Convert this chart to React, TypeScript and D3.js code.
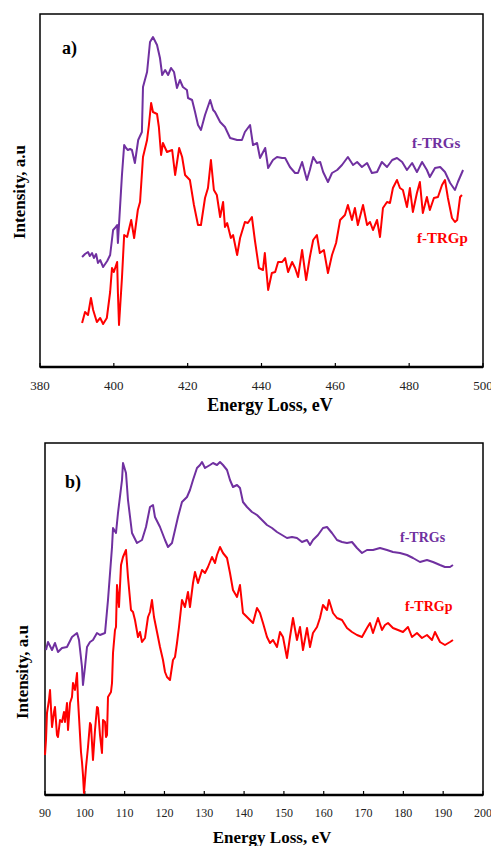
import React from "react";
import * as d3 from "d3";

// ---------- Panel a) data (Energy Loss eV, intensity a.u.) ----------
const aTicks = [380, 400, 420, 440, 460, 480, 500];
const aSE = [391.4,392.2,393.0,393.5,394.1,394.6,395.2,395.7,396.3,397.1,398.2,399.0,399.8,400.3,400.9,401.1,402.2,402.8,403.3,403.8,404.4,404.9,405.7,406.6,407.6,407.9,409.0,409.8,410.6,411.7,412.5,413.1,413.9,414.7,415.5,416.3,417.1,417.9,418.7,419.8,420.1,421.2,422.0,422.8,423.6,424.7,426.1,426.9,427.4,428.8,430.1,431.5,433.4,434.7,435.5,436.9,437.7,438.8,439.6,441.0,441.8,443.1,444.2,445.6,446.4,447.7,449.1,449.9,451.0,452.3,453.1,454.0,455.0,455.9,456.7,458.0,459.1,460.5,461.8,463.4,464.8,465.9,467.2,468.6,469.9,471.3,472.6,474.0,475.4,476.7,478.1,479.4,480.8,482.1,483.5,484.8,485.6,487.0,488.4,489.7,491.1,492.4,493.2,494.6];
const aSI = [110,113,115,111,114,109,113,104,107,100,106,112,137,139,142,124,192,222,219,217,218,217,204,227,235,280,295,325,330,322,309,292,297,292,299,295,279,287,280,277,269,267,255,242,237,252,267,257,255,245,240,229,227,227,235,242,222,224,209,219,199,207,210,209,209,200,194,194,205,187,197,210,204,205,195,185,194,197,202,210,202,205,200,204,194,195,205,200,207,209,205,197,204,195,205,197,190,199,200,195,184,177,185,197];
const aPE = [391.4,392.2,393.0,393.8,394.4,395.4,396.3,397.1,398.1,399.0,399.5,400.0,400.9,401.1,401.4,402.2,402.8,403.6,404.7,405.5,406.5,407.1,407.9,409.0,409.5,410.1,410.6,411.7,412.2,412.8,413.3,414.4,415.8,416.6,417.7,418.5,419.3,420.6,421.7,422.8,423.6,424.7,425.5,426.3,427.1,427.9,428.8,429.6,430.1,430.7,431.7,432.3,433.4,434.2,435.5,436.3,437.4,438.2,439.3,440.4,440.9,441.8,442.8,443.7,444.5,445.6,446.4,447.2,448.3,449.1,449.9,451.0,452.1,453.1,454.0,455.0,455.8,456.9,458.0,459.1,460.2,461.3,462.6,463.4,464.5,465.3,466.1,467.5,468.6,469.4,470.2,471.3,472.1,472.9,474.0,474.8,475.6,476.7,477.5,478.3,479.4,480.2,481.0,482.1,482.9,483.7,484.8,485.6,486.7,487.8,488.9,489.7,490.5,491.6,492.4,493.0,493.8,494.3];
const aPI = [44,55,52,69,57,45,49,43,49,75,99,95,105,75,42,89,132,130,147,129,157,165,210,227,242,264,255,253,240,212,224,215,217,192,219,210,192,187,162,142,142,169,179,207,177,172,150,165,140,144,129,132,112,129,145,144,150,127,99,97,114,77,94,95,105,105,109,95,105,99,90,117,87,110,127,132,114,117,94,112,124,147,152,162,147,159,142,162,142,145,137,147,130,159,165,164,179,187,179,177,160,179,155,174,185,154,170,157,169,170,182,187,169,149,145,147,170,172];

// ---------- Panel b) data ----------
const bTicks = [90, 100, 110, 120, 130, 140, 150, 160, 170, 180, 190, 200];
const bSE = [90.25,90.75,91.76,92.51,93.26,94.27,95.52,96.78,98.04,98.54,99.29,99.54,100.05,100.55,101.3,102.05,103.06,103.81,105.07,105.82,106.83,107.08,107.83,108.33,109.34,109.59,110.34,110.84,111.85,113.1,114.36,115.36,116.37,117.12,117.62,118.88,120.14,120.89,121.89,122.65,123.4,124.4,125.66,126.41,127.17,128.17,128.93,129.43,130.18,131.44,132.19,133.19,133.95,134.7,135.71,136.46,137.21,138.22,138.97,139.72,140.73,141.98,143.24,144.5,145.75,147.01,148.26,149.52,150.77,152.03,153.28,154.54,155.8,156.55,157.3,158.56,159.81,160.82,162.07,163.33,164.59,165.84,167.1,168.35,169.61,170.86,172.37,174.13,175.89,177.39,179.15,180.91,182.42,184.17,185.93,187.44,189.2,190.45,191.71,192.46];
const bSI = [145,153,145,152,143,147,148,158,162,155,128,110,128,148,153,155,162,160,162,195,248,267,262,282,315,332,322,295,262,252,255,268,288,290,278,268,255,248,252,265,278,293,298,305,315,327,330,333,327,330,332,330,333,330,325,315,308,310,307,293,288,283,280,275,270,267,263,260,257,258,257,253,255,250,255,260,267,268,262,255,253,252,253,247,242,245,245,247,245,243,242,240,237,233,235,233,230,228,228,230];
const bPE = [90.0,90.25,90.5,91.0,91.26,91.76,92.26,92.51,93.01,93.26,93.77,94.27,94.77,95.02,95.52,95.78,96.28,96.78,97.03,97.53,98.04,98.29,98.54,99.04,99.29,99.54,99.79,100.3,100.8,101.3,101.55,102.05,102.56,103.06,103.31,103.81,104.31,104.57,105.07,105.32,105.57,105.82,106.57,106.83,107.08,107.58,107.83,108.08,108.58,109.09,109.59,110.34,110.84,111.6,112.1,112.6,113.35,113.86,114.36,115.11,115.87,116.37,116.87,117.37,118.13,118.88,119.63,120.14,120.64,121.39,122.14,122.65,123.15,123.65,124.4,125.15,125.91,126.41,127.17,127.67,128.42,129.43,130.18,130.93,131.94,132.69,133.19,133.95,134.7,135.71,136.46,137.21,138.22,138.97,139.72,140.73,141.48,142.24,143.24,143.99,144.75,145.75,146.5,147.26,148.26,149.02,149.77,150.77,151.53,152.28,153.28,154.04,154.79,155.8,156.55,157.3,158.31,159.06,159.81,160.82,161.32,162.33,163.33,164.59,165.84,167.1,168.35,169.61,170.86,171.62,172.37,173.63,174.63,175.38,176.14,177.39,178.65,179.9,181.16,182.16,183.42,184.67,185.93,187.19,187.94,189.2,190.45,191.71,192.46];
const bPI = [40,55,82,95,105,68,83,88,60,58,75,73,83,73,92,65,92,98,112,105,122,95,78,43,33,20,2,28,48,72,70,35,65,88,87,60,42,75,73,58,60,98,103,112,142,165,168,210,188,230,238,245,218,185,183,175,158,163,153,157,178,183,195,178,163,148,135,123,118,115,135,138,152,168,195,188,203,188,212,223,212,225,222,228,238,232,240,248,242,237,222,205,198,210,182,178,175,172,187,182,172,158,152,155,148,163,158,137,158,177,155,168,145,167,148,162,168,177,190,185,195,182,177,175,167,163,160,158,167,172,162,177,165,170,172,167,165,163,168,158,162,157,160,155,163,153,150,153,155];

const PURPLE = "#7030A0";
const RED = "#FF0000";
const FONT = "'Liberation Serif', 'Times New Roman', serif";

type Pt = [number, number];
const zip = (xs: number[], ys: number[]): Pt[] => xs.map((x, i) => [x, ys[i]]);

interface PanelProps {
  left: number; right: number; top: number; bottom: number;
  xDomain: [number, number]; yMax: number; ticks: number[];
  sData: Pt[]; pData: Pt[];
  tag: string; tagX: number; tagY: number;
  sLabelX: number; sLabelY: number; pLabelX: number; pLabelY: number; labelSize: number;
  tickSize: number; tickY: number; titleY: number; titleSize: number; titleX: number;
  yLabelX: number; yLabelY: number;
}

function Panel(p: PanelProps) {
  const x = d3.scaleLinear().domain(p.xDomain).range([p.left, p.right]);
  const y = d3.scaleLinear().domain([0, p.yMax]).range([p.bottom, p.top]);
  const line = d3.line<Pt>().x(d => x(d[0])).y(d => y(d[1]));
  return (
    <g>
      <rect x={p.left} y={p.top} width={p.right - p.left} height={p.bottom - p.top} fill="none" stroke="#000" strokeWidth={1.5} />
      <line x1={p.left} x2={p.right} y1={p.bottom} y2={p.bottom} stroke="#000" strokeWidth={2.5} />
      {p.ticks.map(t => (
        <g key={t}>
          <line x1={x(t)} x2={x(t)} y1={p.bottom} y2={p.bottom - 4} stroke="#000" strokeWidth={1.2} />
          <text x={x(t)} y={p.tickY} textAnchor="middle" fontFamily={FONT} fontSize={p.tickSize} fill="#222">{t}</text>
        </g>
      ))}
      <path d={line(p.sData) || ""} fill="none" stroke={PURPLE} strokeWidth={2} strokeLinejoin="round" />
      <path d={line(p.pData) || ""} fill="none" stroke={RED} strokeWidth={2} strokeLinejoin="round" />
      <text x={p.tagX} y={p.tagY} fontFamily={FONT} fontWeight="bold" fontSize={18}>{p.tag}</text>
      <text x={p.sLabelX} y={p.sLabelY} fontFamily={FONT} fontWeight="bold" fontSize={p.labelSize} fill={PURPLE}>f-TRGs</text>
      <text x={p.pLabelX} y={p.pLabelY} fontFamily={FONT} fontWeight="bold" fontSize={p.labelSize} fill={RED}>f-TRGp</text>
      <text x={p.titleX} y={p.titleY} textAnchor="middle" fontFamily={FONT} fontWeight="bold" fontSize={p.titleSize}>Energy Loss, eV</text>
      <text transform={`translate(${p.yLabelX},${p.yLabelY}) rotate(-90)`} textAnchor="middle" fontFamily={FONT} fontWeight="bold" fontSize={17}>Intensity, a.u</text>
    </g>
  );
}

export default function App() {
  return (
    <svg width={491} height={846} style={{ position: "absolute", left: 0, top: 0, background: "#fff" }}>
      <rect width={491} height={846} fill="#fff" />
      <Panel left={40} right={483} top={14} bottom={367} xDomain={[380, 500]} yMax={353} ticks={aTicks}
        sData={zip(aSE, aSI)} pData={zip(aPE, aPI)}
        tag="a)" tagX={62} tagY={54}
        sLabelX={412} sLabelY={148} pLabelX={417} pLabelY={243} labelSize={15}
        tickSize={13} tickY={390} titleY={411} titleSize={18} titleX={270}
        yLabelX={25} yLabelY={192} />
      <Panel left={45} right={483} top={443} bottom={795} xDomain={[90, 200]} yMax={352} ticks={bTicks}
        sData={zip(bSE, bSI)} pData={zip(bPE, bPI)}
        tag="b)" tagX={65} tagY={488}
        sLabelX={400} sLabelY={542} pLabelX={405} pLabelY={611} labelSize={14}
        tickSize={12} tickY={817} titleY={843} titleSize={17} titleX={272}
        yLabelX={28} yLabelY={672} />
    </svg>
  );
}
